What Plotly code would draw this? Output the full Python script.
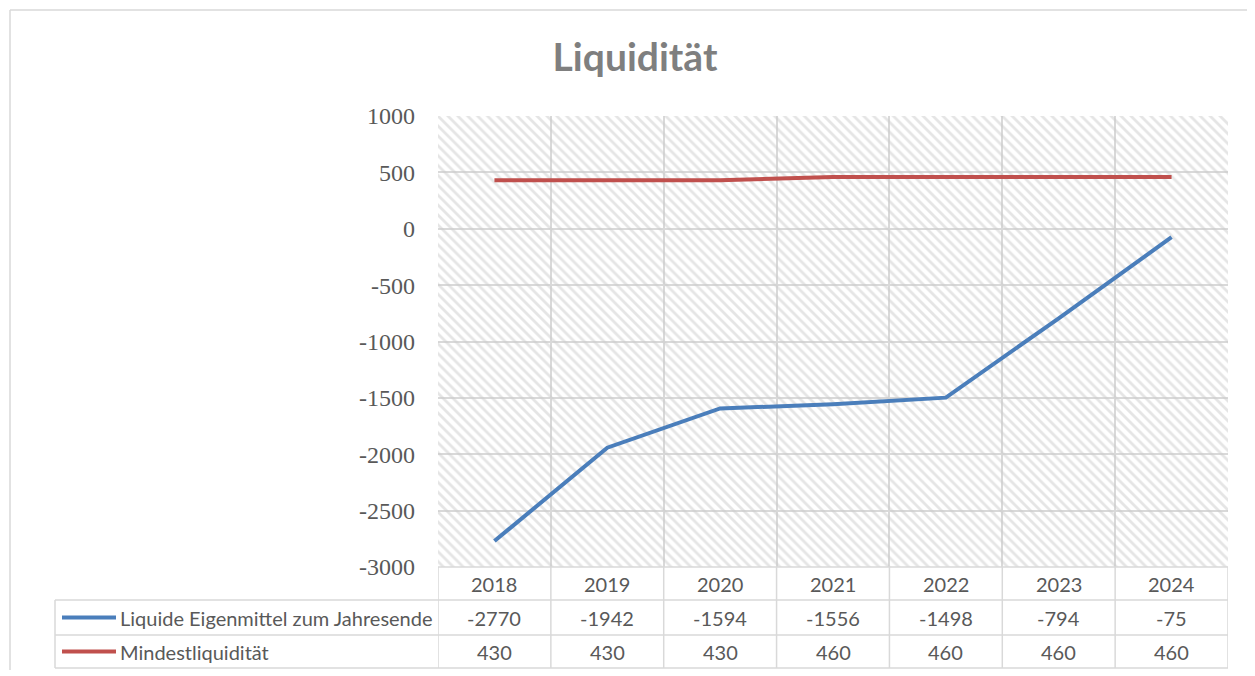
import plotly.graph_objects as go

years = ["2018", "2019", "2020", "2021", "2022", "2023", "2024"]
liquide = [-2770, -1942, -1594, -1556, -1498, -794, -75]
mindest = [430, 430, 430, 460, 460, 460, 460]
series_names = ["Liquide Eigenmittel zum Jahresende", "Mindestliquidität"]
series_colors = ["#4a7ebb", "#c0504d"]
y_min, y_max, y_step = -3000, 1000, 500

OFF = 8  # page body margin
W, H = 1239, 662
L, T = 438 - OFF, 116 - OFF
B = H - (567 - OFF)
R = W - (1228 - OFF)
pw, ph = W - L - R, H - T - B

def px_x(p):
    return (p - OFF - L) / pw

def px_y(p):
    return (H - B - (p - OFF)) / ph

n = len(years)
xs = list(range(n))
x_lo, x_hi = -0.5, n - 0.5

fig = go.Figure()

# hatched background of the plot area
fig.add_trace(go.Scatter(
    x=[x_lo, x_hi, x_hi, x_lo, x_lo], y=[y_min, y_min, y_max, y_max, y_min],
    mode="lines", fill="toself", line=dict(width=0),
    fillcolor="rgba(0,0,0,0)",
    fillpattern=dict(shape="\\", fgcolor="#cccccc", bgcolor="rgba(0,0,0,0)",
                     size=7, solidity=0.4),
    hoverinfo="skip", showlegend=False))

for name, vals, col in zip(series_names, [liquide, mindest], series_colors):
    fig.add_trace(go.Scatter(x=xs, y=vals, mode="lines", name=name,
                             line=dict(color=col, width=4), showlegend=False))

grid = "#d9d9d9"
yticks = list(range(y_min, y_max + 1, y_step))
fig.update_xaxes(range=[x_lo, x_hi], tickvals=[i - 0.5 for i in range(n + 1)],
                 showticklabels=False, showgrid=True, gridcolor=grid, gridwidth=1.5,
                 zeroline=False, showline=False, ticks="")
fig.update_yaxes(range=[y_min, y_max], tickvals=yticks, ticktext=[str(v) for v in yticks],
                 showgrid=True, gridcolor=grid, gridwidth=1.5, zeroline=False,
                 showline=False, ticks="", ticklabelstandoff=22,
                 tickfont=dict(family="Liberation Serif", size=24, color="#595959"))

shapes = []
line_style = dict(color=grid, width=1.5)
# outer chart border
shapes.append(dict(type="line", xref="paper", yref="paper", x0=px_x(10), x1=px_x(1300),
                   y0=px_y(10), y1=px_y(10), line=line_style))
shapes.append(dict(type="line", xref="paper", yref="paper", x0=px_x(10), x1=px_x(10),
                   y0=px_y(10), y1=px_y(700), line=line_style))

# data table
row_edges = [567, 600, 635, 668]
for k in range(n + 1):
    shapes.append(dict(type="line", xref="x", yref="paper", x0=k - 0.5, x1=k - 0.5,
                       y0=px_y(row_edges[0]), y1=px_y(row_edges[-1]), line=line_style))
shapes.append(dict(type="line", xref="x", yref="paper", x0=x_lo, x1=x_hi,
                   y0=px_y(row_edges[0]), y1=px_y(row_edges[0]), line=line_style))
for e in row_edges[1:]:
    shapes.append(dict(type="line", xref="paper", yref="paper", x0=px_x(55), x1=1,
                       y0=px_y(e), y1=px_y(e), line=line_style))
shapes.append(dict(type="line", xref="paper", yref="paper", x0=px_x(55), x1=px_x(55),
                   y0=px_y(row_edges[1]), y1=px_y(row_edges[-1]), line=line_style))

annotations = []
tfont = dict(family="Lato", size=20, color="#595959")
rows = [years, [str(v) for v in liquide], [str(v) for v in mindest]]
for r, row in enumerate(rows):
    yc = px_y((row_edges[r] + row_edges[r + 1]) / 2)
    for k, txt in enumerate(row):
        annotations.append(dict(x=k, y=yc, xref="x", yref="paper", text=txt,
                                showarrow=False, font=tfont,
                                xanchor="center", yanchor="middle"))
for i, (name, col) in enumerate(zip(series_names, series_colors)):
    yc = px_y((row_edges[i + 1] + row_edges[i + 2]) / 2)
    shapes.append(dict(type="line", xref="paper", yref="paper", x0=px_x(62), x1=px_x(116),
                       y0=yc, y1=yc, line=dict(color=col, width=4)))
    annotations.append(dict(x=px_x(118), y=yc, xref="paper", yref="paper", text=name,
                            showarrow=False, font=tfont, xanchor="left", yanchor="middle"))

fig.update_layout(
    width=W, height=H, autosize=False,
    margin=dict(l=L, r=R, t=T, b=B),
    paper_bgcolor="white", plot_bgcolor="white",
    title=dict(text="<b>Liquidität</b>", x=(635 - OFF) / W, xanchor="center",
               y=1 - (57 - OFF) / H, yanchor="middle", yref="container",
               font=dict(family="Lato", size=39, color="#7f7f7f")),
    shapes=shapes, annotations=annotations, showlegend=False,
)

fig.write_html("out.html")
